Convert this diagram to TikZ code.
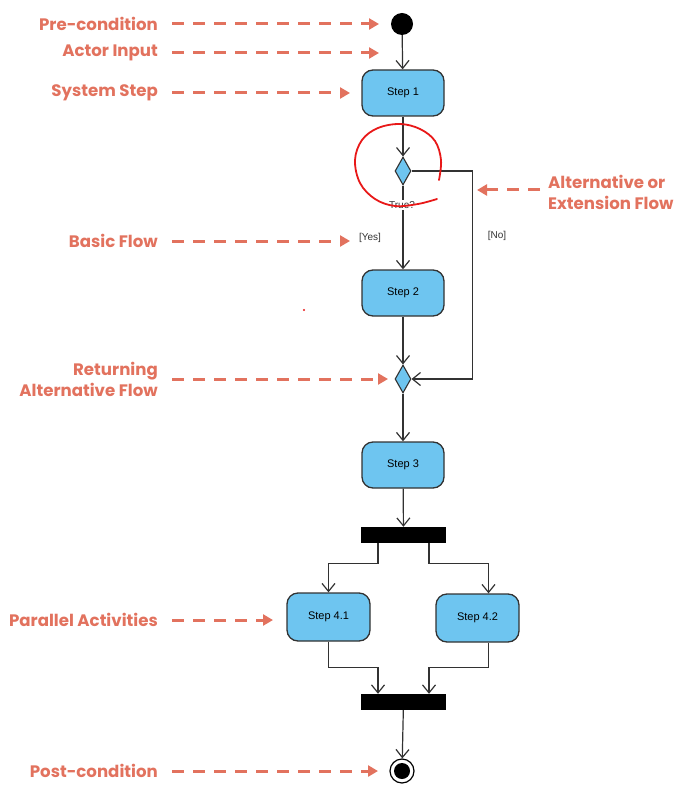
\documentclass[tikz,border=0pt]{standalone}
\usepackage{fontspec}
\setmainfont{Liberation Sans}
\newfontfamily\labfont{Poppins}
\usetikzlibrary{arrows.meta,shapes.geometric}
\definecolor{salmon}{RGB}{226,114,94}
\definecolor{actfill}{RGB}{110,197,240}
\definecolor{edgec}{RGB}{50,50,50}
\definecolor{penred}{RGB}{232,24,24}
\begin{document}
\begin{tikzpicture}[x=1pt,y=-1pt,
  act/.style={draw=edgec, line width=1.3pt, fill=actfill, rounded corners=11pt,
    minimum width=82pt, minimum height=46pt, inner sep=0pt,
    font=\fontsize{11}{13}\selectfont},
  dec/.style={diamond, draw=edgec, line width=1.1pt, fill=actfill,
    minimum width=16pt, minimum height=28pt, inner sep=0pt},
  bar/.style={fill=black, minimum width=85pt, minimum height=16pt, inner sep=0pt},
  flow/.style={draw=edgec, line width=1.2pt, -{Straight Barb[length=8pt,width=13pt]}},
  guard/.style={font=\fontsize{10}{11}\selectfont, text=black!80, inner sep=1pt},
  ann/.style={draw=salmon, line width=3pt, dash pattern=on 12pt off 9pt,
    -{Triangle[length=10pt,width=11pt]}},
  lab/.style={text=salmon, font=\labfont\bfseries\fontsize{16.6}{21}\selectfont,
    align=right, inner sep=0pt},
]
\useasboundingbox (0,0) rectangle (685,794);

% activity nodes
\node[circle, fill=black, minimum size=22pt, inner sep=0pt] (init) at (402,24) {};
\node[act] (s1) at (403,93) {Step 1};
\node[dec] (d1) at (403,171) {};
\node[act] (s2) at (403,293) {Step 2};
\node[dec] (d2) at (403,379) {};
\node[act] (s3) at (403,465) {Step 3};
\node[bar] (fork) at (403.5,535) {};
\node[act, minimum width=83pt, minimum height=48pt] (s41) at (328.5,617) {Step 4.1};
\node[act, minimum width=83pt, minimum height=48pt] (s42) at (477.5,618) {Step 4.2};
\node[bar] (join) at (403.5,702) {};
\node[circle, draw=black, line width=1.2pt, minimum size=24pt, inner sep=0pt] (fin) at (402,771) {};
\fill[black] (fin.center) circle (8pt);

% flows
\draw[flow] (init) -- (s1);
\draw[flow] (s1) -- (d1);
\draw[flow] (d1.south) -- (s2.north);
\node[guard, fill=white] (truelab) at (402,205) {True?};
\node[guard] (yes) at (370,238) {[Yes]};
\draw[flow] (d1.east) -- ++(61,0) |- (d2.east);
\node[guard] (no) at (497,236) {[No]};
\draw[flow] (s2) -- (d2);
\draw[flow] (d2) -- (s3);
\draw[flow] (s3) -- (fork);
\draw[flow] ([xshift=-25.5pt]fork.south) -- ++(0,20) -| (s41.north);
\draw[flow] ([xshift=25.5pt]fork.south) -- ++(0,20) -| ([xshift=11pt]s42.north);
\draw[flow] (s41.south) -- ++(0,26) -| ([xshift=-25.5pt]join.north);
\draw[flow] ([xshift=11pt]s42.south) -- ++(0,25) -| ([xshift=25.5pt]join.north);
\draw[flow] (join) -- (fin);

% annotations
\node[lab, anchor=east] (lpre) at (158,24) {Pre-condition};
\coordinate (tpre) at (379,24);
\draw[ann] ([xshift=14pt]lpre.east) -- (tpre);

\node[lab, anchor=east] (lact) at (158,53) {Actor Input};
\coordinate (tact) at (379,53);
\draw[ann] ([xshift=14pt]lact.east |- 0,53) -- (tact);

\node[lab, anchor=east] (lsys) at (158,93) {System Step};
\coordinate (tsys) at (350,93);
\draw[ann] ([xshift=14pt]lsys.east |- 0,93) -- (tsys);

\node[lab, anchor=east] (lbas) at (158,241) {Basic Flow};
\coordinate (tbas) at (350,241);
\draw[ann] ([xshift=14pt]lbas.east |- 0,241) -- (tbas);

\node[lab, anchor=east] (lret) at (158,379) {Returning\\Alternative Flow};
\coordinate (tret) at (388,379);
\draw[ann] ([xshift=14pt]lret.east) -- (tret);

\node[lab, anchor=east] (lpar) at (158,620) {Parallel Activities};
\coordinate (tpar) at (273,620);
\draw[ann] ([xshift=14pt]lpar.east |- 0,620) -- (tpar);

\node[lab, anchor=east] (lpost) at (158,771) {Post-condition};
\coordinate (tpost) at (378,771);
\draw[ann] ([xshift=14pt]lpost.east |- 0,771) -- (tpost);

\node[lab, anchor=west, align=left] (lalt) at (548,192) {Alternative or\\Extension Flow};
\coordinate (talt) at (477,190);
\draw[ann] ([xshift=-8pt]lalt.west |- 0,190) -- (talt);

% hand-drawn highlight
\draw[penred, line width=1.8pt, line cap=round] plot[smooth, tension=0.6] coordinates
  {(439,180) (441,160) (435,141) (420,129) (400,124) (378,128) (362,140)
   (355,160) (360,183) (375,199) (395,206) (418,204) (437,199)};
\fill[penred] (304,310) circle (1.2pt);
\end{tikzpicture}
\end{document}
